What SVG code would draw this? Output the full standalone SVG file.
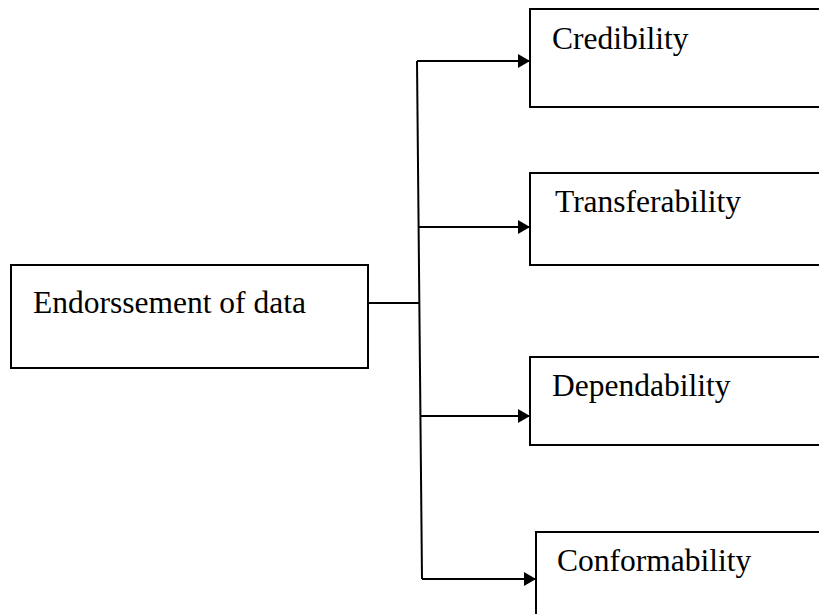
<svg xmlns="http://www.w3.org/2000/svg" width="819" height="614" viewBox="0 0 819 614">
<defs>
<marker id="arr" markerWidth="12" markerHeight="14" refX="12" refY="7" orient="auto" markerUnits="userSpaceOnUse">
<path d="M0,0 L12,7 L0,14 Z" fill="#000"/>
</marker>
<style>
.box{fill:#fff;stroke:#000;stroke-width:2}
.lbl{font-family:"Liberation Serif","Times New Roman",serif;font-size:31.5px;fill:#000}
.con{fill:none;stroke:#000;stroke-width:2}
</style>
</defs>
<rect width="819" height="614" fill="#fff"/>
<g id="connectors">
<line class="con" x1="368" y1="303" x2="419" y2="303"/>
<line class="con" x1="417" y1="61" x2="422" y2="579"/>
<line class="con" x1="417" y1="61" x2="530" y2="61" marker-end="url(#arr)"/>
<line class="con" x1="418" y1="227" x2="530" y2="227" marker-end="url(#arr)"/>
<line class="con" x1="420" y1="416" x2="530" y2="416" marker-end="url(#arr)"/>
<line class="con" x1="422" y1="579" x2="536" y2="579" marker-end="url(#arr)"/>
</g>
<g id="endorsement">
<rect class="box" x="11" y="265" width="357" height="103"/>
<text class="lbl" x="33" y="313">Endorssement of data</text>
</g>
<g id="credibility">
<rect class="box" x="530" y="9" width="300" height="98"/>
<text class="lbl" x="552" y="49">Credibility</text>
</g>
<g id="transferability">
<rect class="box" x="530" y="173" width="300" height="92"/>
<text class="lbl" x="555" y="212">Transferability</text>
</g>
<g id="dependability">
<rect class="box" x="530" y="357" width="300" height="88"/>
<text class="lbl" x="552" y="396">Dependability</text>
</g>
<g id="conformability">
<rect class="box" x="536" y="532" width="300" height="100"/>
<text class="lbl" x="557" y="571">Conformability</text>
</g>
</svg>
